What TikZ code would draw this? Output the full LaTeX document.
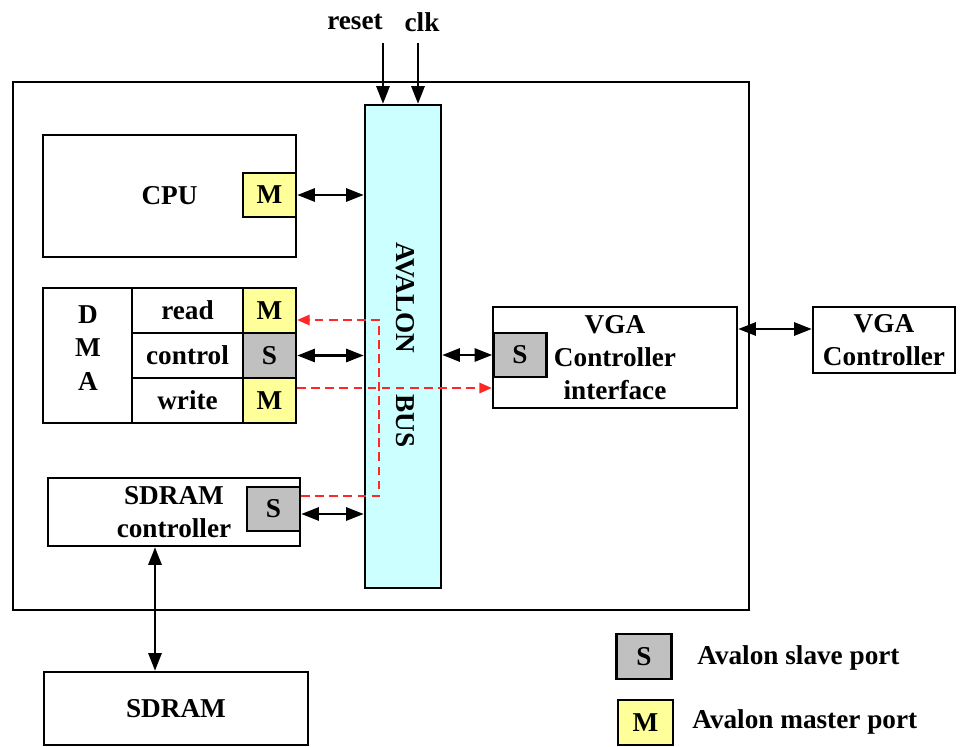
\documentclass[tikz,border=0pt]{standalone}
\usepackage{fontspec}
\setmainfont{Liberation Serif}
\usetikzlibrary{arrows.meta}
\definecolor{busfill}{HTML}{CCFFFF}
\definecolor{mfill}{HTML}{FFFF99}
\definecolor{sfill}{HTML}{C0C0C0}

\begin{document}
\begin{tikzpicture}[x=0.02cm, y=-0.02cm, >={Triangle[length=10pt,width=7.5pt]},
    every node/.style={font=\bfseries\fontsize{15.5}{19}\selectfont},
    blk/.style={draw, line width=1.5pt, inner sep=0pt},
    cell/.style={blk, minimum width=2.22cm, minimum height=0.9cm},
    mport/.style={blk, fill=mfill, minimum width=1.06cm, minimum height=0.88cm},
    sport/.style={blk, fill=sfill, minimum width=1.06cm, minimum height=0.88cm},
    link/.style={<->, line width=1.3pt},
    rlink/.style={-{Triangle[length=7pt,width=6pt]}, red!85, line width=0.7pt, dash pattern=on 5pt off 3pt}]
  \useasboundingbox (0,0) rectangle (968,747);

  \node[draw, line width=1.3pt, inner sep=0pt, minimum width=14.72cm, minimum height=10.56cm] (frame) at (381,346) {};
  \node[blk, fill=busfill, minimum width=1.52cm, minimum height=9.66cm] (bus) at (403,346.5) {};
  \node[rotate=-90] (busname) at (405,345) {AVALON\hspace{1.5em}BUS};

  \node (rst) at (355,22) {reset};
  \node (clk) at (422,22) {clk};
  \coordinate (rstin) at (383,43);
  \coordinate (clkin) at (418,43);
  \draw[->, line width=1.3pt] (rstin) -- (rstin |- bus.north);
  \draw[->, line width=1.3pt] (clkin) -- (clkin |- bus.north);

  \node[blk, minimum width=5.06cm, minimum height=2.44cm] (cpu) at (169.5,196) {CPU};
  \node[mport] (cpuM) at (269.5,195) {M};
  \draw[link] (cpuM.east) -- (cpuM.east -| bus.west);

  \node[blk, minimum width=1.78cm, minimum height=2.7cm] (dma) at (87.5,355.5) {};
  \node[align=center, inner sep=0pt] (dmaname) at (88,348) {D\\M\\A};
  \node[cell] (rd) at (187.5,310.5) {read};
  \node[cell] (ctl) at (187.5,355.5) {control};
  \node[cell] (wr) at (187.5,400.5) {write};
  \node[mport, minimum height=0.9cm] (rdM) at (269.5,310.5) {M};
  \node[sport, minimum height=0.9cm] (ctlS) at (269.5,355.5) {S};
  \node[mport, minimum height=0.9cm] (wrM) at (269.5,400.5) {M};
  \draw[link] (ctlS.east) -- (ctlS.east -| bus.west);

  \node[blk, minimum width=4.88cm, minimum height=2.02cm, align=center] (vga) at (615,357.5) {VGA\\Controller\\interface};
  \node[sport] (vgaS) at (520,355) {S};
  \draw[link] (vgaS.west) -- (vgaS.west -| bus.east);

  \node[blk, minimum width=2.84cm, minimum height=1.32cm, align=center] (vgac) at (884,340) {VGA\\Controller};
  \draw[link] (vga.east |- 0,329) -- (vgac.west |- 0,329);

  \node[blk, minimum width=5.04cm, minimum height=1.36cm, align=center] (sdc) at (174,512) {SDRAM\\controller};
  \node[sport] (sdcS) at (273.5,509) {S};
  \draw[link] (sdcS.east |- 0,514) -- (bus.west |- 0,514);

  \node[blk, minimum width=5.28cm, minimum height=1.46cm] (sdram) at (176,708.5) {SDRAM};
  \draw[link] (sdc.south -| 155,0) -- (sdram.north -| 155,0);

  \coordinate (rdturn) at (379,320);
  \coordinate (sdturn) at (379,496);
  \draw[rlink] (sdcS.east |- sdturn) -- (sdturn) -- (rdturn) -- (rdM.east |- rdturn);
  \draw[rlink] (wrM.east |- 0,388) -- (vga.west |- 0,388);

  \node[sport, minimum width=1.1cm, minimum height=0.9cm] (keyS) at (644,656.5) {S};
  \node[anchor=west, inner sep=0pt] (keySt) at (697,658) {Avalon slave port};
  \node[mport, minimum width=1.1cm, minimum height=0.9cm] (keyM) at (645.5,722.5) {M};
  \node[anchor=west, inner sep=0pt] (keyMt) at (692,722) {Avalon master port};
\end{tikzpicture}
\end{document}
